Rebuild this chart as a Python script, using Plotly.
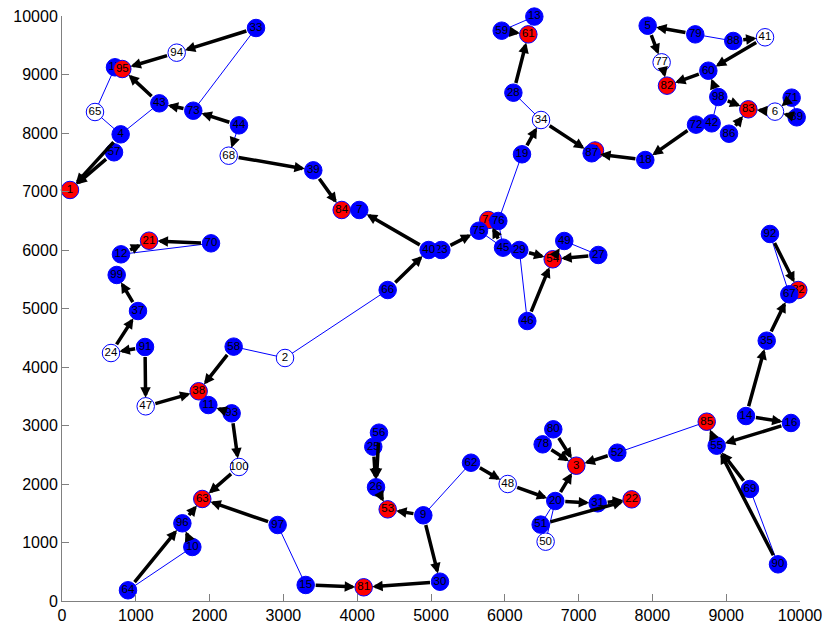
import math
import plotly.graph_objects as go

# ---------------- data ----------------
node_ids = list(range(1, 101))
node_ids.remove(36)
node_x = [108, 3022, 6969, 795, 7936, 9661, 4028, 7222, 4896, 1766,
          1983, 799, 6400, 9268, 3302, 9878, 718, 7904, 6233, 6684,
          1179, 7719, 5140, 664, 4218, 4255, 7267, 6116, 6197, 5122,
          7259, 9977, 2629, 6491, 9549, 1030, 1852, 3405, 4968,
          9526, 8803, 1319, 2398, 5976, 6305, 1134, 6039, 6806, 6553,
          6486, 7525, 4413, 6649, 8871, 4295, 705, 2326, 5958, 8758,
          6319, 5542, 1901, 894, 447, 4413, 9855, 2259, 9322, 2019,
          9887, 8591, 1779, 5777, 5650, 5912, 8125, 6513, 8581, 6657,
          4088, 8198, 9300, 3790, 8736, 9038, 7177, 9096, 9955, 9702,
          1125, 9593, 2299, 1554, 817, 1631, 2922, 8893, 741, 2398]
node_y = [7026, 4154, 2313, 7977, 9834, 8365, 6684, 7701, 1465, 923,
          3350, 5926, 9990, 3162, 274, 3043, 9123, 7538, 7636, 1709,
          6159, 1738, 6000, 4239, 2638, 1944, 5915, 8689, 6000, 330,
          1670, 5316, 9795, 8222, 4450, 4957, 3585, 7362, 6000,
          9636, 8165, 8507, 8131, 6040, 4786, 3328, 2000, 6154, 1014,
          1306, 2535, 1567, 5841, 2655, 2877, 7670, 4348, 9749, 9065,
          9686, 2364, 1744, 183, 8359, 5316, 5243, 7612, 1915, 6114,
          8604, 8143, 8381, 6513, 6330, 6496, 9208, 2678, 9686, 2935,
          234, 8809, 8405, 6684, 3065, 7988, 7653, 9573, 8268, 627,
          4342, 6274, 3208, 9373, 9094, 1328, 1299, 8615, 5573, 2291]
red_nodes = [1, 3, 8, 21, 22, 32, 38, 53, 54, 61, 63, 74, 81, 82, 83, 84, 85, 95]
white_nodes = [2, 6, 24, 34, 41, 47, 48, 50, 65, 68, 77, 94, 100]

arrow_src = [33, 94, 43, 73, 44, 4, 57, 68, 39, 40, 66, 23, 45, 19, 34, 28, 59, 13,
             79, 5, 77, 60, 41, 88, 98, 98, 86, 42, 6, 71, 89, 72, 18, 29, 27, 46,
             54, 92, 14, 35, 14, 16, 69, 90, 55, 52, 80, 78, 20, 48, 20, 31, 51,
             62, 9, 9, 30, 15, 26, 25, 56, 70, 12, 99, 37, 24, 91, 91, 47, 58,
             93, 93, 100, 96, 10, 64, 97]
arrow_dst = [94, 95, 95, 43, 73, 1, 1, 39, 84, 7, 40, 75, 74, 34, 87, 61, 61, 61,
             5, 77, 82, 82, 60, 41, 60, 83, 83, 86, 83, 6, 6, 18, 87, 54, 54, 54,
             49, 32, 35, 67, 16, 55, 55, 55, 85, 3, 3, 3, 3, 20, 31, 22, 22,
             48, 53, 30, 81, 81, 53, 26, 26, 21, 21, 12, 99, 37, 24, 47, 38, 38,
             11, 100, 63, 63, 96, 96, 63]
head_src = [44]
head_dst = [68]

link_a = [33, 17, 65, 4, 44, 28, 19, 76, 75, 79, 98, 71, 66, 2, 29, 49, 92, 69,
          85, 12, 64, 97, 9, 20, 51, 20, 59]
link_b = [73, 65, 4, 43, 68, 34, 76, 45, 45, 88, 42, 89, 2, 58, 46, 27, 67, 90,
          52, 70, 10, 15, 62, 51, 50, 50, 13]

tick_vals = [0, 1000, 2000, 3000, 4000, 5000, 6000, 7000, 8000, 9000, 10000]
tick_text = ["0", "1000", "2000", "3000", "4000", "5000", "6000", "7000", "8000", "9000", "10000"]

# ---------------- figure ----------------
W, H = 827, 625
ML, MR, MT, MB = 62, 27, 16, 24
sx = (W - ML - MR) / 10000.0
sy = (H - MT - MB) / 10000.0

pos = {n: (x, y) for n, x, y in zip(node_ids, node_x, node_y)}

fig = go.Figure()

# thin blue links
lx, ly = [], []
for a, b in zip(link_a, link_b):
    lx += [pos[a][0], pos[b][0], None]
    ly += [pos[a][1], pos[b][1], None]
fig.add_trace(go.Scatter(x=lx, y=ly, mode="lines",
                         line=dict(color="rgb(0,0,255)", width=1),
                         hoverinfo="skip", cliponaxis=False))

# nodes, one trace each so each label sits with its own circle
for n in node_ids:
    if n in red_nodes:
        fill = "rgb(255,0,0)"
    elif n in white_nodes:
        fill = "white"
    else:
        fill = "rgb(0,0,255)"
    fig.add_trace(go.Scatter(
        x=[pos[n][0]], y=[pos[n][1]], mode="markers+text",
        text=[str(n)], textposition="middle center",
        textfont=dict(family="Liberation Sans, Arial, sans-serif", size=11.5, color="black"),
        marker=dict(size=17.5, color=fill, line=dict(color="rgb(0,0,255)", width=1)),
        cliponaxis=False, hoverinfo="skip"))

annotations = []
for s, d in zip(arrow_src, arrow_dst):
    annotations.append(dict(
        x=pos[d][0], y=pos[d][1], ax=pos[s][0], ay=pos[s][1],
        xref="x", yref="y", axref="x", ayref="y", text="",
        showarrow=True, arrowhead=2, arrowsize=0.6, arrowwidth=3.5,
        arrowcolor="black", standoff=8.5, startstandoff=8.5))
for s, d in zip(head_src, head_dst):
    L = math.hypot((pos[d][0] - pos[s][0]) * sx, (pos[d][1] - pos[s][1]) * sy)
    annotations.append(dict(
        x=pos[d][0], y=pos[d][1], ax=pos[s][0], ay=pos[s][1],
        xref="x", yref="y", axref="x", ayref="y", text="",
        showarrow=True, arrowhead=2, arrowsize=0.6, arrowwidth=3.5,
        arrowcolor="black", standoff=8.5, startstandoff=max(0, L - 8.5 - 6)))

axis_common = dict(
    range=[0, 10000], tickmode="array", tickvals=tick_vals, ticktext=tick_text,
    showgrid=False, zeroline=False, showline=True, linecolor="#808080", linewidth=1,
    ticks="inside", ticklen=7, tickcolor="#808080", mirror=False, automargin=False,
    ticklabeloverflow="allow",
    tickfont=dict(family="Liberation Sans, Arial, sans-serif", size=16, color="black"),
)

fig.update_layout(
    width=W, height=H,
    margin=dict(l=ML, r=MR, t=MT, b=MB, autoexpand=False),
    paper_bgcolor="white", plot_bgcolor="white",
    showlegend=False,
    xaxis=axis_common,
    yaxis=axis_common,
    annotations=annotations,
)

# remove the page's default 8px body margin so the figure fills the window exactly
fig.write_html("out.html", config={"displayModeBar": False},
               post_script="document.body.style.margin='0';document.body.style.overflow='hidden';")
